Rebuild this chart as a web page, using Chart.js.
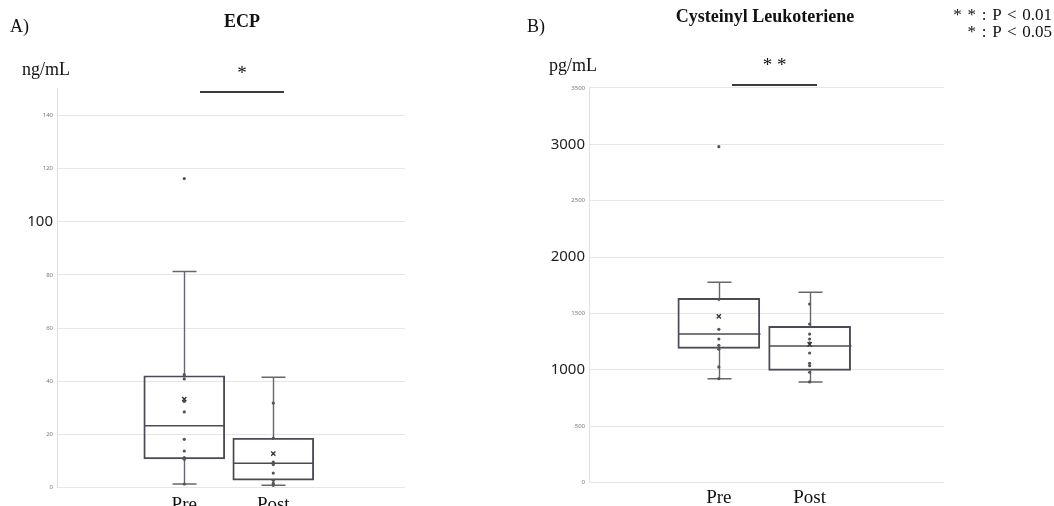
<!DOCTYPE html>
<html><head><meta charset="utf-8">
<script src="https://cdn.jsdelivr.net/npm/chart.js@4.4.1/dist/chart.umd.min.js"></script>
<style>
body{margin:0;width:1054px;height:506px;overflow:hidden;background:#fff;position:relative;font-family:'Liberation Serif',serif;}
.t{position:absolute;white-space:nowrap;color:#111;line-height:1;font-size:18px;}
.c{transform:translateX(-50%);}
.b{font-weight:bold;}
.ln{position:absolute;height:1.6px;background:#3a3a3a;}
canvas{position:absolute;top:0;}
</style></head><body>
<canvas id="ca" width="520" height="506" style="left:0"></canvas>
<canvas id="cb" width="534" height="506" style="left:520px"></canvas>

<div class="t" style="left:10px;top:16.5px">A)</div>
<div class="t b c" style="left:242px;top:11.5px">ECP</div>
<div class="t" style="left:22px;top:60px">ng/mL</div>
<div class="t c" style="left:242px;top:63px;font-size:19px">*</div>
<div class="ln" style="left:200px;top:91px;width:84px"></div>

<div class="t" style="left:527px;top:16.5px">B)</div>
<div class="t b c" style="left:765px;top:7px">Cysteinyl Leukoteriene</div>
<div class="t" style="left:549px;top:55.5px">pg/mL</div>
<div class="t c" style="left:774.5px;top:55px;font-size:19px">* *</div>
<div class="ln" style="left:732px;top:84px;width:85px"></div>

<div class="t" style="right:2px;top:6px;font-size:17px;word-spacing:1.5px">* * : P &lt; 0.01</div>
<div class="t" style="right:2px;top:23px;font-size:17px;word-spacing:1.5px">* : P &lt; 0.05</div>

<script>
// ---- data ----
const categories = ['Pre', 'Post'];

// ECP (ng/mL)
const ecpWhiskerLow  = [1.4, 0.9];
const ecpQ1          = [10.8, 2.8];
const ecpMedian      = [23.3, 9.2];
const ecpQ3          = [42.1, 18.6];
const ecpWhiskerHigh = [81.3, 41.5];
const ecpMean        = [33.3, 12.8];
const ecpPrePoints   = [116.2, 42.5, 40.9, 32.4, 28.5, 18.2, 13.8, 11.3, 10.7, 1.4];
const ecpPostPoints  = [31.8, 18.6, 9.6, 8.7, 5.5, 2.8, 1.6, 0.9];
const ecpTicks       = [0, 20, 40, 60, 80, 100, 120, 140];
const ecpBigTicks    = [100];

// Cysteinyl Leukoteriene (pg/mL)
const cysWhiskerLow  = [922, 893];
const cysQ1          = [1191, 996];
const cysMedian      = [1318, 1212];
const cysQ3          = [1635, 1387];
const cysWhiskerHigh = [1777, 1688];
const cysMean        = [1475, 1227];
const cysPrePoints   = [2979, 1626, 1360, 1274, 1218, 1183, 1026, 922];
const cysPostPoints  = [1584, 1407, 1318, 1274, 1240, 1150, 1058, 1037, 979, 893];
const cysTicks       = [0, 500, 1000, 1500, 2000, 2500, 3000, 3500];
const cysBigTicks    = [1000, 2000, 3000];

function makeChart(canvas, cfg) {
  const xs = categories.map((c, i) => i + 1);
  const pts = [];
  cfg.points.forEach((arr, i) => arr.forEach(v => pts.push({x: xs[i], y: v})));
  const isBig = c => !!(c && c.tick && cfg.big.includes(c.tick.value));

  const boxPlugin = {
    id: 'boxes',
    beforeDatasetsDraw(chart) {
      const {ctx, scales: {x, y}} = chart;
      ctx.save();
      ctx.lineWidth = 1.4;
      xs.forEach((xv, i) => {
        const px = Math.round(x.getPixelForValue(xv)) + 0.5;
        const half = cfg.capW / 2;
        const yLo = y.getPixelForValue(cfg.lo[i]);
        const yQ1 = y.getPixelForValue(cfg.q1[i]);
        const yQ3 = y.getPixelForValue(cfg.q3[i]);
        const yHi = y.getPixelForValue(cfg.hi[i]);
        ctx.strokeStyle = '#66666e';
        ctx.beginPath();
        ctx.moveTo(px, yHi); ctx.lineTo(px, yQ3);
        ctx.moveTo(px, yQ1); ctx.lineTo(px, yLo);
        ctx.moveTo(px - half, yHi); ctx.lineTo(px + half, yHi);
        ctx.moveTo(px - half, yLo); ctx.lineTo(px + half, yLo);
        ctx.stroke();
        const yMed = y.getPixelForValue(cfg.med[i]);
        const bh = cfg.boxW / 2;
        ctx.strokeStyle = '#4b4b55';
        ctx.beginPath();
        ctx.moveTo(px - bh, yMed); ctx.lineTo(px + bh, yMed);
        ctx.stroke();
      });
      ctx.restore();
    },
    afterDraw(chart) {
      const {ctx, scales: {x}} = chart;
      ctx.save();
      ctx.font = '19px "Liberation Serif"';
      ctx.fillStyle = '#111';
      ctx.textAlign = 'center';
      ctx.textBaseline = 'alphabetic';
      categories.forEach((c, i) => ctx.fillText(c, x.getPixelForValue(xs[i]), cfg.labelBaseline));
      ctx.restore();
    }
  };

  return new Chart(canvas, {
    type: 'scatter',
    data: {
      datasets: [
        {
          type: 'scatter',
          data: xs.map((xv, i) => ({x: xv, y: cfg.mean[i]})),
          pointStyle: 'crossRot', pointRadius: 3, pointHoverRadius: 3,
          borderColor: '#333', borderWidth: 1.3, order: 0
        },
        {
          type: 'scatter',
          data: pts,
          pointRadius: 1.6, pointHoverRadius: 1.6,
          backgroundColor: '#555', borderWidth: 0, order: 1
        },
        {
          type: 'bar',
          data: xs.map((xv, i) => ({x: xv, y: [cfg.q1[i], cfg.q3[i]]})),
          backgroundColor: 'rgba(255,255,255,0)',
          borderColor: '#4b4b55', borderWidth: 1.3, borderSkipped: false,
          barThickness: cfg.boxW, order: 2
        }
      ]
    },
    options: {
      responsive: false, animation: false,
      layout: {padding: cfg.padding},
      plugins: {legend: {display: false}, tooltip: {enabled: false}},
      scales: {
        x: {type: 'linear', min: -0.43, max: 3.48, display: false, offset: false},
        y: {
          min: 0, max: cfg.max,
          afterBuildTicks: s => { s.ticks = cfg.ticks.map(v => ({value: v})); },
          afterFit: s => { s.width = cfg.axisW; },
          ticks: {
            padding: 4,
            callback: v => String(v),
            font: c => isBig(c) ? {family: 'Noto Sans', size: 15} : {family: 'Noto Sans', size: 6},
            color: c => isBig(c) ? '#222' : '#777'
          },
          grid: {color: '#e6e6e6', lineWidth: 1, drawTicks: false},
          border: {color: '#e0e0e0', width: 1}
        }
      }
    },
    plugins: [boxPlugin]
  });
}

makeChart(document.getElementById('ca'), {
  lo: ecpWhiskerLow, q1: ecpQ1, med: ecpMedian, q3: ecpQ3, hi: ecpWhiskerHigh, mean: ecpMean,
  points: [ecpPrePoints, ecpPostPoints], ticks: ecpTicks, big: ecpBigTicks, max: 150,
  axisW: 57, padding: {left: 0, top: 88.7, right: 115, bottom: 18.3},
  boxW: 81, capW: 24, labelBaseline: 510
});
makeChart(document.getElementById('cb'), {
  lo: cysWhiskerLow, q1: cysQ1, med: cysMedian, q3: cysQ3, hi: cysWhiskerHigh, mean: cysMean,
  points: [cysPrePoints, cysPostPoints], ticks: cysTicks, big: cysBigTicks, max: 3500,
  axisW: 69, padding: {left: 0, top: 87.9, right: 110, bottom: 23.3},
  boxW: 82, capW: 24, labelBaseline: 503
});
</script>
</body></html>
